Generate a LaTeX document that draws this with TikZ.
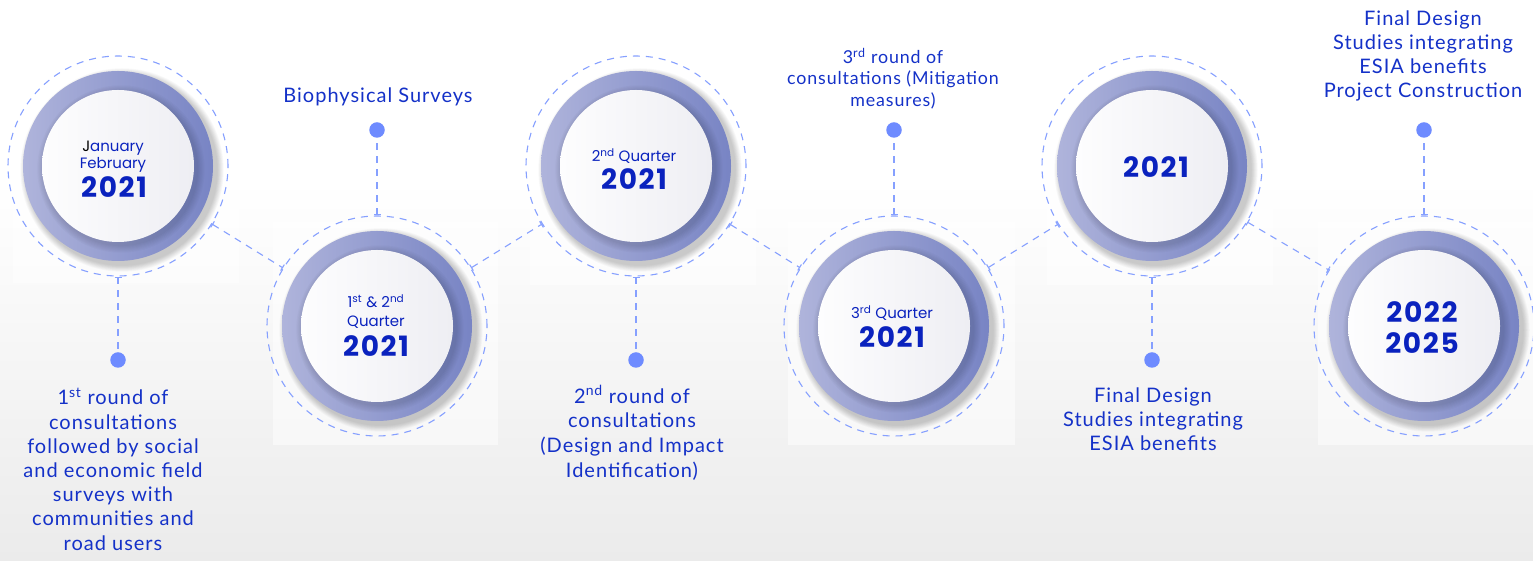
\documentclass[tikz,border=0pt]{standalone}
\usepackage{fontspec}
\setmainfont[LetterSpace=5]{Lato}
\newfontfamily\yearfont{Poppins}
\newfontfamily\bigyearfont[LetterSpace=6]{Poppins}
\usetikzlibrary{arrows.meta}

\definecolor{inkblue}{HTML}{1431C8}
\definecolor{yearblue}{HTML}{0A22BE}
\definecolor{dotblue}{HTML}{6E8BFF}
\definecolor{dashblue}{HTML}{86A0FF}
\definecolor{ringlight}{HTML}{AFB4DB}
\definecolor{ringdark}{HTML}{7884C4}
\definecolor{diskleft}{HTML}{FDFDFE}
\definecolor{diskright}{HTML}{EEEEF3}
\definecolor{bgbottom}{HTML}{EBEBEB}

\tikzset{
  halo/.style={circle, minimum size=220pt, inner sep=0pt, draw=dashblue,
    line width=1.1pt, dash pattern=on 7pt off 6pt},
  link/.style={draw=dashblue, line width=1.1pt, dash pattern=on 7pt off 6pt},
  linkboth/.style={link, arrows={Bar[width=7pt,line width=1.1pt]-Bar[width=7pt,line width=1.1pt]}},
  linkstart/.style={link, arrows={Bar[width=7pt,line width=1.1pt]-}},
  dotmark/.style={circle, fill=dotblue, minimum size=15.5pt, inner sep=0pt},
  caption/.style={align=center, text=inkblue, inner sep=0pt,
    font=\fontsize{20}{24.2}\selectfont,
    execute at begin node=\strut, execute at end node=\strut},
  qlabel/.style={text=yearblue, anchor=base, inner sep=0pt,
    font=\yearfont\fontsize{15}{18}\selectfont},
  ylabel/.style={text=yearblue, anchor=base, inner sep=0pt,
    font=\bigyearfont\bfseries\fontsize{28}{30}\selectfont},
  panel/.style={fill=white, opacity=0.5}
}

% shaded ring with soft shadows and a light disk in the middle
\newcommand\drawringat[1]{%
  \begin{scope}[shift={(#1)}]
    \foreach \k in {1,...,9}
      \fill[black, opacity=0.025] (4pt,-4pt) circle ({95pt+\k*0.75pt});
    \shade[left color=ringlight, right color=ringdark] (0,0) circle (95pt);
    \foreach \k in {1,...,7}
      \fill[black, opacity=0.02] (3pt,-3pt) circle ({76pt+\k*1.1pt});
    \shade[left color=diskleft, right color=diskright] (0,0) circle (76pt);
  \end{scope}}

\begin{document}
\begin{tikzpicture}[x=1pt, y=1pt]
  \useasboundingbox (0,0) rectangle (1533,561);

  % background
  \fill[white] (0,0) rectangle (1533,561);
  \shade[top color=white, bottom color=bgbottom] (0,0) rectangle (1533,381);

  % faint panels behind the stages
  \fill[panel] (13,278) rectangle (239,511);
  \fill[panel] (273,116) rectangle (498,339);
  \fill[panel] (530,276) rectangle (756,511);
  \fill[panel] (788,116) rectangle (1015,339);
  \fill[panel] (1047,276) rectangle (1273,511);
  \fill[panel] (1318,116) rectangle (1533,339);

  % dashed halos
  \node[halo] (c1) at (118,395) {};
  \node[halo] (c2) at (377,235) {};
  \node[halo] (c3) at (636,395) {};
  \node[halo] (c4) at (894,235) {};
  \node[halo] (c5) at (1152,395) {};
  \node[halo] (c6) at (1424,235) {};

  % rings
  \drawringat{c1}
  \drawringat{c2}
  \drawringat{c3}
  \drawringat{c4}
  \drawringat{c5}
  \drawringat{c6}

  % dates inside the rings
  \node[qlabel] (n1a) at (113,409.3) {{\color{black}J}anuary};
  \node[qlabel] (n1b) at (113,392) {February};
  \node[ylabel] (n1c) at (114,363) {2021};

  \node[qlabel] (n2a) at (376,253) {1\textsuperscript{st} \& 2\textsuperscript{nd}};
  \node[qlabel] (n2b) at (376,234) {Quarter};
  \node[ylabel] (n2c) at (376,204) {2021};

  \node[qlabel] (n3a) at (634,399) {2\textsuperscript{nd} Quarter};
  \node[ylabel] (n3b) at (634,371) {2021};

  \node[qlabel] (n4a) at (892,242) {3\textsuperscript{rd} Quarter};
  \node[ylabel] (n4b) at (892,213) {2021};

  \node[ylabel] (n5a) at (1156,383) {2021};

  \node[ylabel] (n6a) at (1422,238) {2022};
  \node[ylabel] (n6b) at (1422,207) {2025};

  % links between stages
  \draw[linkboth] (c1) -- (c2);
  \draw[linkboth] (c2) -- (c3);
  \draw[linkboth] (c3) -- (c4);
  \draw[linkboth] (c4) -- (c5);
  \draw[linkboth] (c5) -- (c6);

  % marker dots
  \node[dotmark] (d1) at (c1 |- 0,201) {};
  \node[dotmark] (d2) at (c2 |- 0,431) {};
  \node[dotmark] (d3) at (c3 |- 0,201) {};
  \node[dotmark] (d4) at (c4 |- 0,431) {};
  \node[dotmark] (d5) at (c5 |- 0,201) {};
  \node[dotmark] (d6) at (c6 |- 0,431) {};

  \draw[linkstart] (c1) -- (d1);
  \draw[linkstart] (c2) -- (d2);
  \draw[linkstart] (c3) -- (d3);
  \draw[linkstart] (c4) -- (d4);
  \draw[linkstart] (c5) -- (d5);
  \draw[linkstart] (c6) -- (d6);

  % stage descriptions
  \node[caption] (t1) at (113,88.3) {1\textsuperscript{st} round of\\consultations\\followed by social\\and economic field\\surveys with\\communities and\\road users};
  \node[caption] (t2) at (378,463.8) {Biophysical Surveys};
  \node[caption, font=\fontsize{20}{24.7}\selectfont] (t3) at (632,126) {2\textsuperscript{nd} round of\\consultations\\(Design and Impact\\Identification)};
  \node[caption, font=\fontsize{17.8}{21.4}\selectfont] (t4) at (893,480.6) {3\textsuperscript{rd} round of\\consultations (Mitigation\\measures)};
  \node[caption, font=\fontsize{20}{24}\selectfont] (t5) at (1153,137.8) {Final Design\\Studies integrating\\ESIA benefits};
  \node[caption, font=\fontsize{20}{23.9}\selectfont] (t6) at (1423,503.3) {Final Design\\Studies integrating\\ESIA benefits\\Project Construction};
\end{tikzpicture}
\end{document}
